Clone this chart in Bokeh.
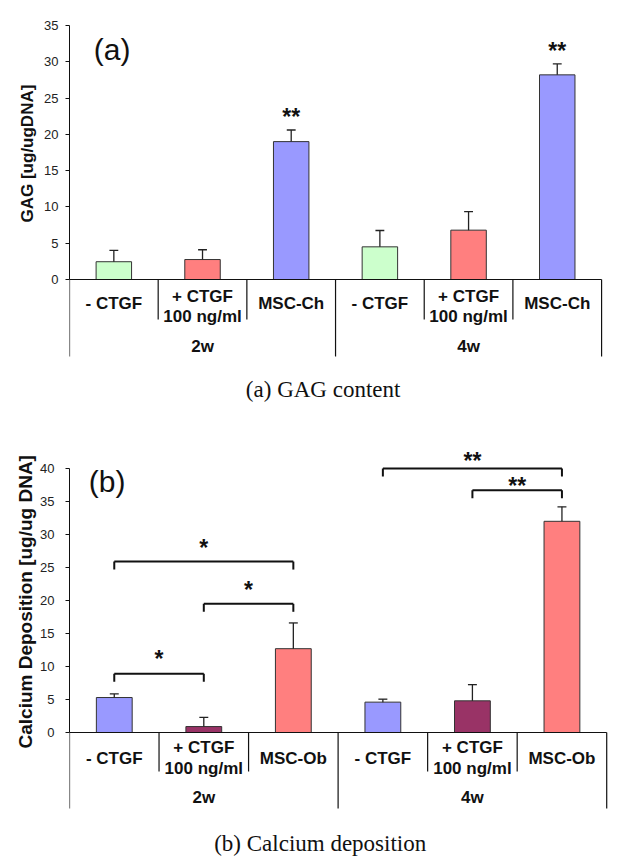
from bokeh.plotting import figure
from bokeh.layouts import column
from bokeh.models import Range1d, FixedTicker, Title
from bokeh.core.properties import value
from bokeh.embed import file_html
from bokeh.resources import INLINE

# ---------------- data ----------------
groups = ["2w", "4w"]

gag_conditions = ["- CTGF", "+ CTGF\n100 ng/ml", "MSC-Ch"]
gag_colors = ["#ccffcc", "#ff7f7f", "#9999ff"]
gag_mean = [2.45, 2.75, 19.0, 4.5, 6.8, 28.2]
gag_err = [1.55, 1.35, 1.6, 2.25, 2.55, 1.5]
gag_sig = ["", "", "**", "", "", "**"]
gag_ticks = [0, 5, 10, 15, 20, 25, 30, 35]

ca_conditions = ["- CTGF", "+ CTGF\n100 ng/ml", "MSC-Ob"]
ca_colors = ["#9999ff", "#993366", "#ff7f7f"]
ca_mean = [5.3, 0.9, 12.7, 4.6, 4.8, 32.0]
ca_err = [0.55, 1.4, 3.9, 0.45, 2.45, 2.2]
ca_ticks = [0, 5, 10, 15, 20, 25, 30, 35, 40]

# significance brackets (bar index left, bar index right, bracket height, label, label height)
br_left = [0, 1, 0, 3, 4]
br_right = [1, 2, 2, 5, 5]
br_y = [8.9, 19.5, 25.9, 40.0, 36.7]
br_label = ["*", "*", "*", "**", "**"]
br_label_y = [11.7, 22.2, 28.5, 41.7, 38.0]

SANS = "Liberation Sans"
SERIF = "Liberation Serif"
STAR_OFFSET = 4


def panel(conds, colors, mean, err, ticks, ylabel, tag, caption,
          height, zero_px, ppu, left, x_end, offs,
          ylabel_size, standoff, title_standoff, title_offset, tag_xy, cap_x):
    y_end = zero_px / ppu
    y_start = -(height - zero_px) / ppu
    p = figure(width=608, height=height, x_range=Range1d(0, x_end),
               y_range=Range1d(y_start, y_end), x_axis_type=None,
               output_backend="svg", toolbar_location=None,
               min_border_left=left, min_border_right=0,
               min_border_top=0, min_border_bottom=0)
    p.outline_line_color = None
    p.ygrid.grid_line_color = None

    ax = p.yaxis[0]
    ax.ticker = FixedTicker(ticks=ticks)
    ax.bounds = (0, ticks[-1])
    ax.minor_tick_line_color = None
    ax.major_tick_in = 0
    ax.major_tick_out = 4
    ax.axis_line_color = "#111111"
    ax.major_tick_line_color = "#111111"
    ax.major_label_text_font = SANS
    ax.major_label_text_font_size = "13px"
    ax.major_label_text_color = "#222222"
    ax.major_label_standoff = standoff

    # y label placed along the 0..max part of the axis
    p.add_layout(Title(text=ylabel, align="left", offset=title_offset,
                       standoff=title_standoff, text_font=SANS, text_font_style="bold",
                       text_font_size=ylabel_size, text_color="#111111"), "left")

    n = len(mean)
    xs = [i + 0.5 for i in range(n)]
    fills = [colors[i % len(colors)] for i in range(n)]
    tops = [m + e for m, e in zip(mean, err)]

    p.vbar(x=xs, top=mean, bottom=0, width=0.4, fill_color=fills,
           line_color="#333333", line_width=1)
    p.segment(x0=xs, y0=mean, x1=xs, y1=tops, line_color="#222222", line_width=1.3)
    p.segment(x0=[x - 0.05 for x in xs], y0=tops, x1=[x + 0.05 for x in xs], y1=tops,
              line_color="#222222", line_width=1.3)

    # category axis
    p.segment(x0=[0], y0=[0], x1=[n], y1=[0], line_color="#111111", line_width=1.2)
    ng = len(groups)
    per = n // ng
    inner = [i for i in range(1, n) if i % per != 0]
    outer = [i for i in range(0, n + 1) if i % per == 0]
    p.segment(x0=inner, y0=[0] * len(inner), x1=inner,
              y1=[-offs["inner"] / ppu] * len(inner), line_color="#111111", line_width=1.2)
    p.segment(x0=outer, y0=[0] * len(outer), x1=outer,
              y1=[-offs["outer"] / ppu] * len(outer), line_color="#111111", line_width=1.2)

    lx, ly, lt = [], [], []
    for i in range(n):
        lines = conds[i % per].split("\n")
        if len(lines) == 1:
            lx.append(xs[i]); ly.append(-offs["single"] / ppu); lt.append(lines[0])
        else:
            lx += [xs[i], xs[i]]
            ly += [-offs["l1"] / ppu, -offs["l2"] / ppu]
            lt += lines
    p.text(x=lx, y=ly, text=lt, text_font=value(SANS), text_font_style="bold",
           text_font_size="17px", text_align="center", text_baseline="middle",
           text_color="#111111")
    gx = [g * per + per / 2 for g in range(ng)]
    p.text(x=gx, y=[-offs["group"] / ppu] * ng, text=groups, text_font=value(SANS),
           text_font_style="bold", text_font_size="17px", text_align="center",
           text_baseline="middle", text_color="#111111")

    p.text(x=[tag_xy[0]], y=[tag_xy[1]], text=[tag], text_font=value(SANS),
           text_font_size="30px", text_align="center", text_baseline="middle",
           text_color="#111111")
    p.text(x=[cap_x], y=[-offs["caption"] / ppu], text=[caption], text_font=value(SERIF),
           text_font_size="23px", text_align="center", text_baseline="middle",
           text_color="#111111")
    return p, xs, tops


p1, xs1, tops1 = panel(gag_conditions, gag_colors, gag_mean, gag_err, gag_ticks,
                       "GAG [ug/ugDNA]", "(a)", "(a) GAG content",
                       height=415, zero_px=279, ppu=7.257, left=61,
                       x_end=6.078,
                       offs=dict(single=24, l1=17, l2=37, inner=40, outer=77,
                                 group=67, caption=110),
                       ylabel_size="17px", standoff=7, title_standoff=9,
                       title_offset=193, tag_xy=(0.48, 31.7), cap_x=2.86)
sig_x = [x for x, s in zip(xs1, gag_sig) if s]
sig_y = [t + 2.3 for t, s in zip(tops1, gag_sig) if s]
sig_t = [s for s in gag_sig if s]
p1.text(x=sig_x, y=sig_y, text=sig_t, text_font=value(SANS), text_font_style="bold",
        text_font_size="23px", text_align="center", text_baseline="alphabetic",
        y_offset=STAR_OFFSET, text_color="#111111")

p2, xs2, tops2 = panel(ca_conditions, ca_colors, ca_mean, ca_err, ca_ticks,
                       "Calcium Deposition [ug/ug DNA]", "(b)", "(b) Calcium deposition",
                       height=445, zero_px=317, ppu=6.6, left=69,
                       x_end=6.02,
                       offs=dict(single=26, l1=15, l2=36, inner=39, outer=76,
                                 group=65, caption=111),
                       ylabel_size="19px", standoff=11, title_standoff=4,
                       title_offset=112, tag_xy=(0.42, 38.0), cap_x=2.8)

drop = 8 / 6.6
bx0 = [xs2[i] for i in br_left]
bx1 = [xs2[i] for i in br_right]
p2.segment(x0=bx0, y0=br_y, x1=bx1, y1=br_y, line_color="#111111", line_width=2)
p2.segment(x0=bx0, y0=br_y, x1=bx0, y1=[y - drop for y in br_y], line_color="#111111", line_width=2)
p2.segment(x0=bx1, y0=br_y, x1=bx1, y1=[y - drop for y in br_y], line_color="#111111", line_width=2)
p2.text(x=[(a + b) / 2 for a, b in zip(bx0, bx1)], y=br_label_y, text=br_label,
        text_font=value(SANS), text_font_style="bold", text_font_size="23px",
        text_align="center", text_baseline="alphabetic", y_offset=STAR_OFFSET,
        text_color="#111111")

layout = column(p1, p2, spacing=0)
open("out.html", "w").write(file_html(layout, INLINE))
